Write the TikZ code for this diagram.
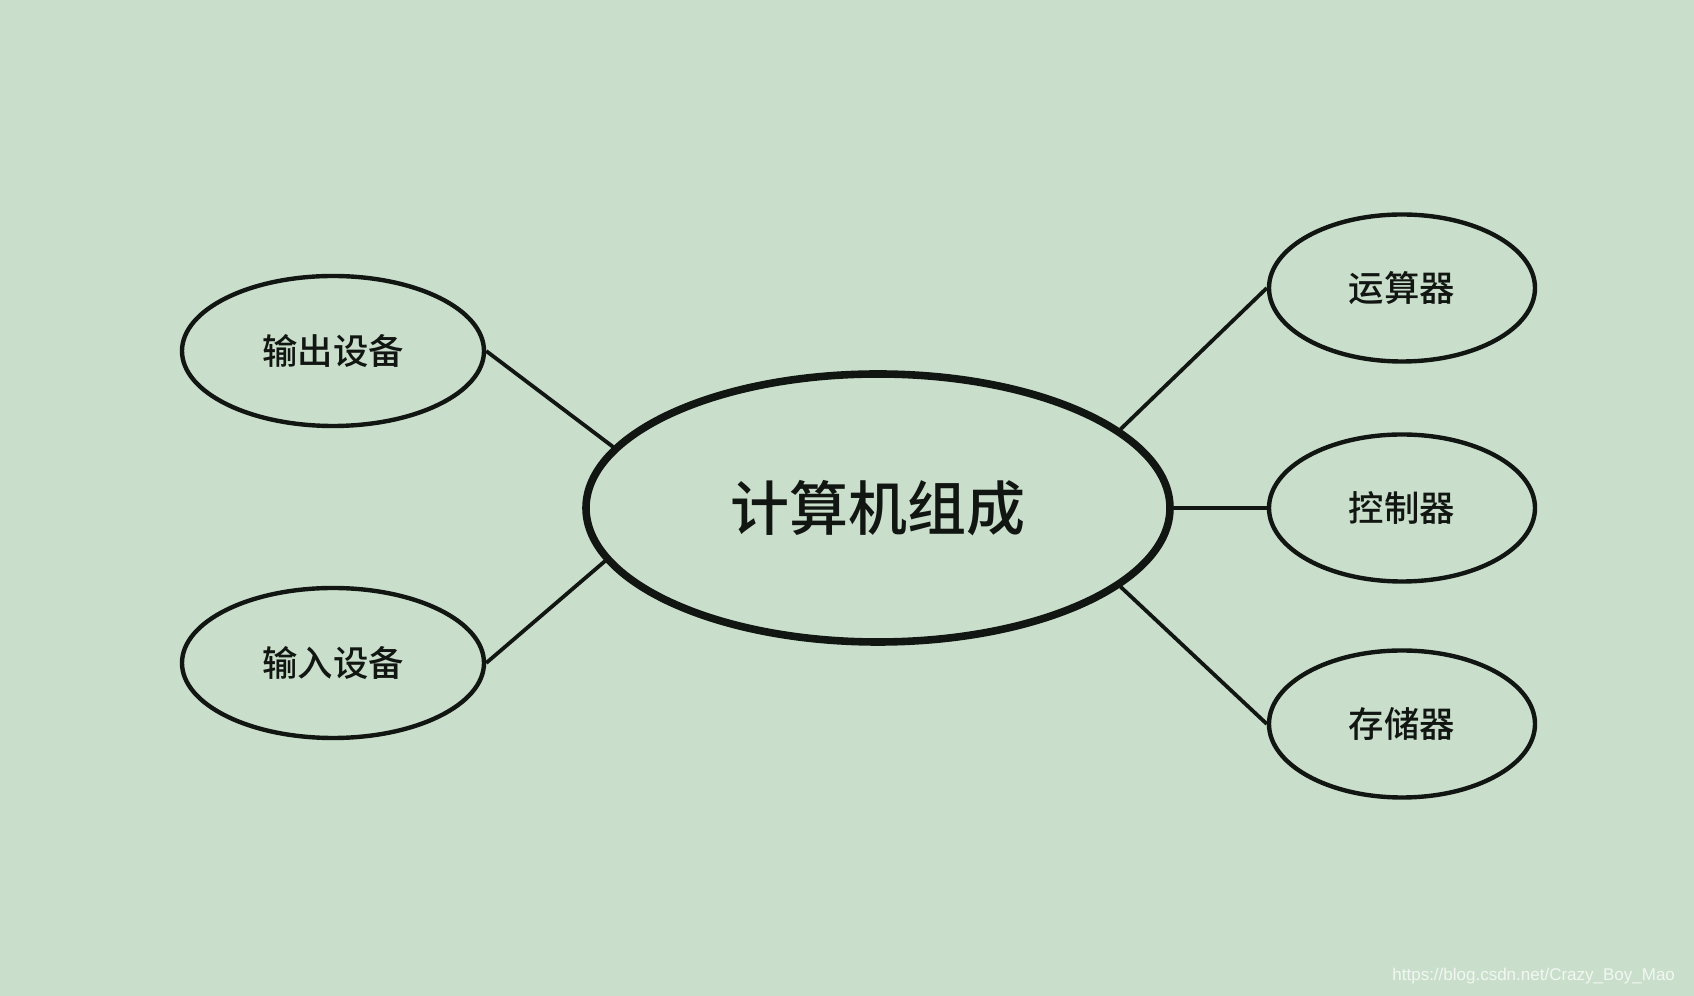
\documentclass[tikz,border=0pt]{standalone}
\usepackage{fontspec}
\newfontfamily\cjk[UprightFont={* Medium},BoldFont={* Medium}]{Noto Sans CJK SC}
\setsansfont{Liberation Sans}
\usetikzlibrary{shapes.geometric}
\definecolor{bgc}{HTML}{C9DFCB}
\definecolor{ink}{HTML}{121612}
\tikzset{
  mainell/.style={ellipse, draw=ink, line width=3.8pt, inner sep=0pt, minimum width=292pt, minimum height=134pt, font=\cjk\fontsize{29.5}{32}\selectfont, text=ink},
  leftell/.style={ellipse, draw=ink, line width=2.2pt, inner sep=0pt, minimum width=151pt, minimum height=75pt, font=\cjk\fontsize{17.7}{20}\selectfont, text=ink},
  rightell/.style={ellipse, draw=ink, line width=2.2pt, inner sep=0pt, minimum width=133pt, minimum height=73.5pt, font=\cjk\fontsize{17.7}{20}\selectfont, text=ink},
  link/.style={draw=ink, line width=1.9pt}
}
\begin{document}
\begin{tikzpicture}[x=1pt,y=1pt]
\fill[bgc] (0,0) rectangle (847,498);
\useasboundingbox (0,0) rectangle (847,498);
\node[mainell] (c) at (439,244) {\raisebox{2pt}{计算机组成}};
\node[leftell] (lt) at (166.5,322.5) {输出设备};
\node[leftell] (lb) at (166.5,166.5) {输入设备};
\node[rightell] (rt) at (701,354) {运算器};
\node[rightell] (rm) at (701,244) {控制器};
\node[rightell] (rb) at (701,136) {存储器};
\draw[link] (lt.east) -- (c.167.5);
\draw[link] (lb.east) -- (c.191);
\draw[link] (c.18.4) -- (rt.west);
\draw[link] (c.east) -- (rm.west);
\draw[link] (c.342.8) -- (rb.west);
\node[anchor=east, font=\sffamily\fontsize{8.5}{10}\selectfont, text=white, opacity=0.75] (wm) at (841,10) {https://blog.csdn.net/Crazy\_Boy\_Mao};
\end{tikzpicture}
\end{document}
